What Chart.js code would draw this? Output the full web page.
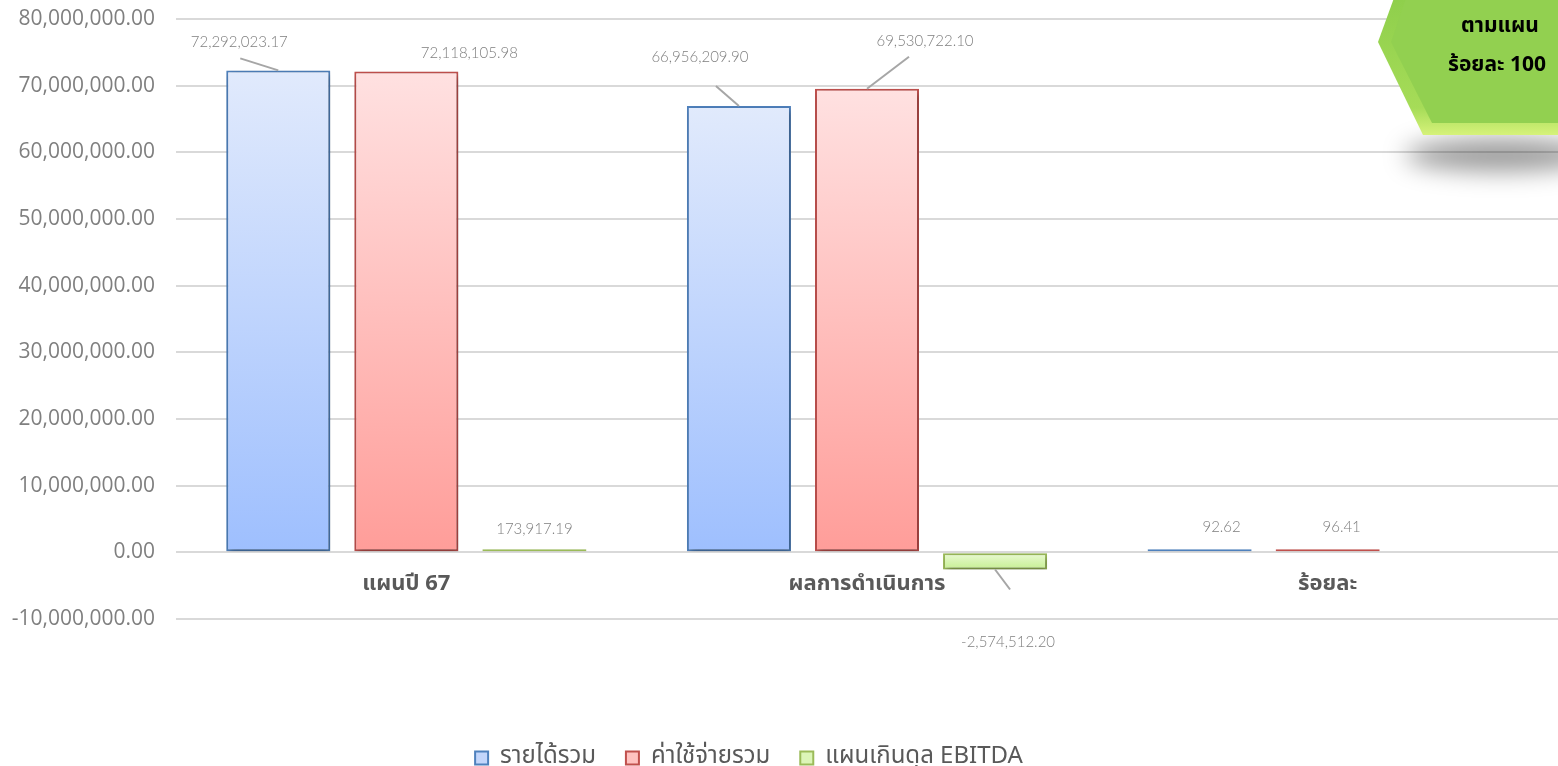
<!DOCTYPE html>
<html>
<head>
<meta charset="utf-8">
<script src="https://cdn.jsdelivr.net/npm/chart.js@4.4.1/dist/chart.umd.min.js"></script>
<style>
  html, body { margin: 0; padding: 0; background: #fff; }
  #wrap { width: 1558px; height: 766px; position: relative; }
</style>
</head>
<body>
<div id="wrap"><canvas id="myChart"></canvas></div>
<script>
// values
var categories = ['แผนปี 67', 'ผลการดำเนินการ', 'ร้อยละ'];
var seriesNames = ['รายได้รวม', 'ค่าใช้จ่ายรวม', 'แผนเกินดุล EBITDA'];
var revenue = [72292023.17, 66956209.90, 92.62];
var expense = [72118105.98, 69530722.10, 96.41];
var ebitda = [173917.19, -2574512.20, null];
var yMin = -10000000, yMax = 80000000, yStep = 10000000;
var badgeLines = ['ตามแผน', 'ร้อยละ 100'];

// styling
var thaiFont = '"Noto Sans Thai", "Open Sans", "Noto Sans", sans-serif';
var borderColors = ['#4f81bd', '#c0504d', '#9bbb59'];
var lightColors = ['#e1eafc', '#ffe1e1', '#ebfad6'];
var darkColors = ['#9ebffe', '#ff9d99', '#c6ef92'];
var legendFills = ['#c3d6fb', '#ffc2c0', '#dcf5b8'];

// label offsets from the bar end (px), and leader line ends
var labelOffsets = [
    [[-39, -28], [-39, -49], [22, -22]],
    [[63, -18], [58, -48], [14, -22]],
    [[0, -20], [13, 73], null]
];
var leaders = [
    [[-38, -12], [-23, -20], null],
    [null, [42, -32], null],
    [null, [15, 20], null]
];

function fmt(v, d) {
    return v.toLocaleString('en-US', {minimumFractionDigits: d, maximumFractionDigits: d});
}

function barGradient(i) {
    return function (ctx) {
        var chart = ctx.chart;
        if (ctx.type !== 'data' || !chart.chartArea || ctx.raw == null) return legendFills[i];
        var y = chart.scales.y;
        var top = y.getPixelForValue(Math.max(ctx.raw, 0));
        var bottom = y.getPixelForValue(Math.min(ctx.raw, 0));
        if (bottom - top < 2) bottom = top + 2;
        var g = chart.ctx.createLinearGradient(0, top, 0, bottom);
        g.addColorStop(0, lightColors[i]);
        g.addColorStop(1, darkColors[i]);
        return g;
    };
}

var barShadow = {
    id: 'barShadow',
    beforeDatasetsDraw: function (chart) {
        var c = chart.ctx;
        c.save();
        c.shadowColor = 'rgba(0,0,0,0.35)';
        c.shadowBlur = 6;
        c.shadowOffsetX = 2;
        c.shadowOffsetY = 3;
    },
    afterDatasetsDraw: function (chart) {
        chart.ctx.restore();
    }
};

// nudge the legend a little left, as in the original
var legendShift = {
    id: 'legendShift',
    afterUpdate: function (chart) {
        if (chart.legend) {
            chart.legend.left -= 30;
            chart.legend.right -= 30;
        }
    }
};

var valueLabels = {
    id: 'valueLabels',
    afterDatasetsDraw: function (chart) {
        var c = chart.ctx;
        c.save();
        c.font = '300 15px Lato, sans-serif';
        c.fillStyle = '#7f7f7f';
        c.textAlign = 'center';
        c.textBaseline = 'middle';
        c.strokeStyle = '#a6a6a6';
        c.lineWidth = 2;
        chart.data.datasets.forEach(function (ds, di) {
            var meta = chart.getDatasetMeta(di);
            meta.data.forEach(function (el, i) {
                var v = ds.data[i];
                if (v == null || !labelOffsets[di][i]) return;
                var off = labelOffsets[di][i];
                var ld = leaders[di][i];
                if (ld) {
                    c.beginPath();
                    c.moveTo(el.x, el.y);
                    c.lineTo(el.x + ld[0], el.y + ld[1]);
                    c.stroke();
                }
                c.fillText(fmt(v, 2), el.x + off[0], el.y + off[1]);
            });
        });
        c.restore();
    }
};

var badge = {
    id: 'badge',
    afterDraw: function (chart) {
        var c = chart.ctx;
        c.save();
        // soft shadow under the badge
        c.filter = 'blur(12px)';
        c.fillStyle = 'rgba(0,0,0,0.4)';
        c.beginPath();
        c.ellipse(1500, 155, 95, 16, 0, 0, Math.PI * 2);
        c.fill();
        c.filter = 'none';
        // outer hexagon
        var outer = [[1394, -2], [1378, 42], [1423, 135], [1560, 135], [1560, -2]];
        c.beginPath();
        outer.forEach(function (p, k) { k ? c.lineTo(p[0], p[1]) : c.moveTo(p[0], p[1]); });
        c.closePath();
        var g = c.createLinearGradient(0, 0, 0, 135);
        g.addColorStop(0, '#8fcf4c');
        g.addColorStop(0.8, '#a6dc58');
        g.addColorStop(1, '#d6f27a');
        c.fillStyle = g;
        c.fill();
        // inner face
        var inner = [[1406, -2], [1391, 42], [1432, 123], [1560, 123], [1560, -2]];
        c.beginPath();
        inner.forEach(function (p, k) { k ? c.lineTo(p[0], p[1]) : c.moveTo(p[0], p[1]); });
        c.closePath();
        c.fillStyle = '#92d050';
        c.fill();
        // text
        c.fillStyle = '#000';
        c.font = 'bold 21px ' + thaiFont;
        c.textAlign = 'center';
        c.textBaseline = 'middle';
        c.fillText(badgeLines[0], 1500, 28);
        c.fillText(badgeLines[1], 1497, 67);
        c.restore();
    }
};

var data = {
    labels: categories,
    datasets: [revenue, expense, ebitda].map(function (vals, i) {
        return {
            label: seriesNames[i],
            data: vals,
            backgroundColor: barGradient(i),
            borderColor: borderColors[i],
            borderWidth: 2,
            borderSkipped: false,
            minBarLength: 3,
            categoryPercentage: 0.834,
            barPercentage: 0.8125
        };
    })
};

var ctx = document.getElementById('myChart');
var myBarChart = new Chart(ctx, {
    type: 'bar',
    data: data,
    plugins: [barShadow, legendShift, valueLabels, badge],
    options: {
        responsive: true,
        maintainAspectRatio: false,
        animation: false,
        layout: { padding: { top: 0, right: 0, left: 0, bottom: -14 } },
        scales: {
            x: {
                position: { y: 0 },
                grid: { display: false, drawTicks: false },
                border: { display: false },
                ticks: {
                    padding: 20,
                    color: '#595959',
                    font: { family: thaiFont, size: 22, weight: 'bold' }
                }
            },
            x2: {
                type: 'category',
                position: 'bottom',
                grid: { display: false, drawTicks: false },
                border: { display: false },
                ticks: { display: false },
                afterFit: function (scale) { scale.height = 97; }
            },
            y: {
                min: yMin,
                max: yMax,
                grid: { color: '#d9d9d9', lineWidth: 2, drawTicks: false },
                border: { display: false },
                afterFit: function (scale) {
                    scale.width = 176;
                    scale.paddingTop = 19;
                    scale.paddingBottom = 0;
                },
                ticks: {
                    stepSize: yStep,
                    padding: 21,
                    color: '#7f7f7f',
                    font: { family: '"Open Sans", sans-serif', size: 21 },
                    callback: function (v) { return fmt(v, 2); }
                }
            }
        },
        plugins: {
            tooltip: { enabled: false },
            legend: {
                position: 'bottom',
                labels: {
                    boxWidth: 13,
                    boxHeight: 13,
                    padding: 30,
                    color: '#595959',
                    font: { family: thaiFont, size: 24 },
                    generateLabels: function (chart) {
                        return chart.data.datasets.map(function (ds, i) {
                            return {
                                text: ds.label,
                                fillStyle: legendFills[i],
                                strokeStyle: borderColors[i],
                                lineWidth: 2,
                                fontColor: '#595959',
                                datasetIndex: i,
                                hidden: false
                            };
                        });
                    }
                }
            }
        }
    }
});
</script>
</body>
</html>
